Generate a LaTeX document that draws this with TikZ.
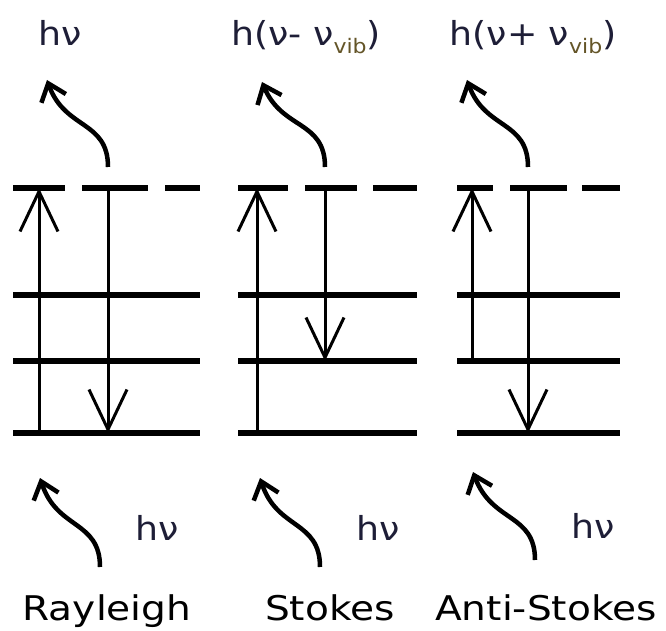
\documentclass[tikz,border=0pt]{standalone}
\usepackage{fontspec}
\setmainfont{DejaVu Sans}
\usetikzlibrary{arrows.meta,calc}
\definecolor{lbl}{RGB}{30,30,55}
\definecolor{vibc}{RGB}{100,85,40}
\newcommand{\vibsub}{\raisebox{-8pt}{\fontsize{20}{20}\selectfont\textcolor{vibc}{vib}}}
\tikzset{
  levelline/.style={line width=5.5pt},
  trans/.style={line width=3pt, -{Straight Barb[length=40pt,width=38pt,line width=3pt]}},
  photon/.style={line width=4.5pt, -{Straight Barb[length=16pt,width=26pt,line width=4.5pt]}},
  lab/.style={font=\fontsize{33}{36}\selectfont, text=lbl, inner sep=0pt, anchor=base},
  procname/.style={font=\fontsize{34}{38}\selectfont, inner sep=0pt, anchor=base},
}
\begin{document}
\begin{tikzpicture}[x=1pt,y=-1pt]
\useasboundingbox (0,0) rectangle (666,631);
\fill[white] (0,0) rectangle (666,631);

% ---- Rayleigh ----
\draw[levelline] (13,188) -- (65,188) (82,188) -- (148,188) (165,188) -- (200,188);
\draw[levelline] (13,295) -- (200,295);
\draw[levelline] (13,361) -- (200,361);
\draw[levelline] (13,433) -- (200,433);
\coordinate (r-up-a) at (39,433); \coordinate (r-up-b) at (39,188);
\coordinate (r-dn-a) at (108,188); \coordinate (r-dn-b) at (108,433);
\draw[trans] (r-up-a) -- (r-up-b);
\draw[trans] (r-dn-a) -- (r-dn-b);

% ---- Stokes ----
\draw[levelline] (238,188) -- (288,188) (305,188) -- (357,188) (373,188) -- (417,188);
\draw[levelline] (238,295) -- (417,295);
\draw[levelline] (238,361) -- (417,361);
\draw[levelline] (238,433) -- (417,433);
\coordinate (s-up-a) at (257,433); \coordinate (s-up-b) at (257,188);
\coordinate (s-dn-a) at (325,188); \coordinate (s-dn-b) at (325,361);
\draw[trans] (s-up-a) -- (s-up-b);
\draw[trans] (s-dn-a) -- (s-dn-b);

% ---- Anti-Stokes ----
\draw[levelline] (457,188) -- (493,188) (510,188) -- (567,188) (582,188) -- (620,188);
\draw[levelline] (457,295) -- (620,295);
\draw[levelline] (457,361) -- (620,361);
\draw[levelline] (457,433) -- (620,433);
\coordinate (a-up-a) at (472,361); \coordinate (a-up-b) at (472,188);
\coordinate (a-dn-a) at (528,188); \coordinate (a-dn-b) at (528,433);
\draw[trans] (a-up-a) -- (a-up-b);
\draw[trans] (a-dn-a) -- (a-dn-b);

% ---- photons (scattered, top) ----
\coordinate (pt1) at (108,167); \coordinate (pt1e) at (47,80);
\coordinate (pt2) at (325,167); \coordinate (pt2e) at (262,82);
\coordinate (pt3) at (528,167); \coordinate (pt3e) at (467,80);
\draw[photon] (pt1) .. controls ($(pt1)+(0,-47)$) and ($(pt1)+(-43,-37)$) .. (pt1e);
\draw[photon] (pt2) .. controls ($(pt2)+(0,-47)$) and ($(pt2)+(-43,-37)$) .. (pt2e);
\draw[photon] (pt3) .. controls ($(pt3)+(0,-47)$) and ($(pt3)+(-43,-37)$) .. (pt3e);

% ---- photons (incident, bottom) ----
\coordinate (pb1) at (100,567); \coordinate (pb1e) at (40,478);
\coordinate (pb2) at (320,567); \coordinate (pb2e) at (260,478);
\coordinate (pb3) at (535,560); \coordinate (pb3e) at (473,472);
\draw[photon] (pb1) .. controls ($(pb1)+(0,-47)$) and ($(pb1)+(-43,-37)$) .. (pb1e);
\draw[photon] (pb2) .. controls ($(pb2)+(0,-47)$) and ($(pb2)+(-43,-37)$) .. (pb2e);
\draw[photon] (pb3) .. controls ($(pb3)+(0,-47)$) and ($(pb3)+(-43,-37)$) .. (pb3e);

% ---- labels ----
\node[lab] (t1) at (60,46) {\scalebox{1.1}[1]{hν}};
\node[lab] (t2) at (306,46) {\scalebox{1.1}[1]{h(ν- ν\vibsub)}};
\node[lab] (t3) at (533,46) {\scalebox{1.1}[1]{h(ν+ ν\vibsub)}};
\node[lab] (b1) at (157,540) {\scalebox{1.1}[1]{hν}};
\node[lab] (b2) at (378,540) {\scalebox{1.1}[1]{hν}};
\node[lab] (b3) at (593,538) {\scalebox{1.1}[1]{hν}};
\node[procname] (n1) at (107,620) {\scalebox{1.15}[1]{Rayleigh}};
\node[procname] (n2) at (330,620) {\scalebox{1.15}[1]{Stokes}};
\node[procname] (n3) at (546,620) {\scalebox{1.15}[1]{Anti-Stokes}};
\end{tikzpicture}
\end{document}
